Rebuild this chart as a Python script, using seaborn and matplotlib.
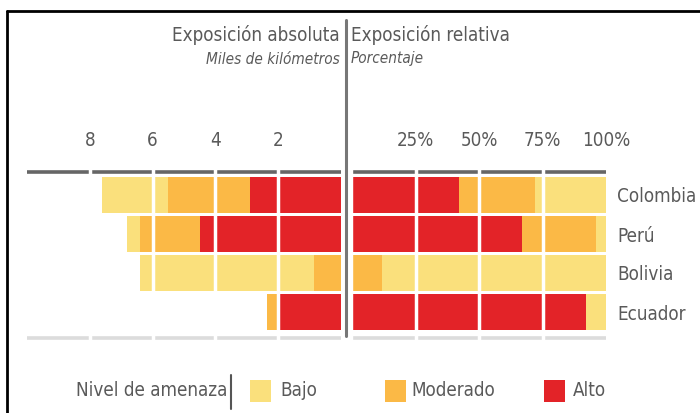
import numpy as np
import pandas as pd
import matplotlib
matplotlib.use("Agg")
import matplotlib.pyplot as plt
from matplotlib.patches import Rectangle
from matplotlib.lines import Line2D
import seaborn as sns

# ---- data ----
countries = ["Colombia", "Perú", "Bolivia", "Ecuador"]
levels = ["Bajo", "Moderado", "Alto"]
abs_alto = [2.9, 4.5, 0.0, 2.0]        # miles de km
abs_moderado = [2.6, 1.9, 0.85, 0.35]
abs_bajo = [2.1, 0.4, 5.55, 0.0]
rel_alto = [42, 67, 0, 92]             # %
rel_moderado = [30, 29, 12, 0]
rel_bajo = [28, 4, 88, 8]
abs_ticks = [8, 6, 4, 2]
rel_ticks = [25, 50, 75, 100]
rel_ticklabels = ["25%", "50%", "75%", "100%"]

colors = {"Bajo": "#FAE07C", "Moderado": "#FBB946", "Alto": "#E32328"}
text_color = "#5a5a5a"

sns.set_theme(style="white")
plt.rcParams["font.family"] = ["DejaVu Sans"]
plt.rcParams["font.stretch"] = "condensed"

W, H = 700, 413
fig = plt.figure(figsize=(7, 4.13), dpi=100)
fig.patch.set_facecolor("white")

def fx(px):
    return px / W

def fy(py):
    return 1 - py / H

ax_top_px, ax_bot_px = 168, 341
row0, pitch = 195, 39.0
ylim_top = (ax_top_px - row0) / pitch
ylim_bot = (ax_bot_px - row0) / pitch
line_top = (172 - row0) / pitch
line_bot = (338 - row0) / pitch

axL = fig.add_axes([fx(27), fy(ax_bot_px), fx(341 - 27), (ax_bot_px - ax_top_px) / H])
axR = fig.add_axes([fx(352), fy(ax_bot_px), fx(606 - 352), (ax_bot_px - ax_top_px) / H])

def stacked(ax, first, second, third, order):
    # cumulative totals drawn largest first so the segments stack
    c1 = np.array(first, float)
    c2 = c1 + np.array(second, float)
    c3 = c2 + np.array(third, float)
    for vals, lev in zip([c3, c2, c1], order[::-1]):
        df = pd.DataFrame({"pais": countries, "valor": vals})
        sns.barplot(data=df, x="valor", y="pais", orient="h", color=colors[lev],
                    saturation=1, width=0.92, linewidth=0, ax=ax, zorder=2)

stacked(axL, abs_alto, abs_moderado, abs_bajo, ["Alto", "Moderado", "Bajo"])
stacked(axR, rel_alto, rel_moderado, rel_bajo, ["Alto", "Moderado", "Bajo"])

axL.set_xlim(10, 0)
axR.set_xlim(0, 100)
for ax in (axL, axR):
    ax.set_ylim(ylim_bot, ylim_top)
    ax.set_xlabel("")
    ax.set_ylabel("")
    for s in ax.spines.values():
        s.set_visible(False)
    ax.axhline(line_top, color="#666666", lw=2.6, zorder=1)
    ax.axhline(line_bot, color="#DCDCDC", lw=2.6, zorder=1)
    ax.xaxis.tick_top()
    ax.tick_params(axis="x", length=0, pad=13, labelsize=13.5, labelcolor=text_color)
    ax.set_facecolor("none")

axL.set_xticks(abs_ticks)
axL.set_xticklabels([str(t) for t in abs_ticks])
for t in abs_ticks:
    axL.axvline(t, color="white", lw=2.5, zorder=4)
axL.set_yticks([])

axR.set_xticks(rel_ticks)
axR.set_xticklabels(rel_ticklabels)
for t in rel_ticks[:-1]:
    axR.axvline(t, color="white", lw=2.5, zorder=4)
axR.axvline(0, color="white", lw=1, zorder=4)
axR.yaxis.tick_right()
axR.set_yticks(range(len(countries)))
axR.set_yticklabels(countries)
axR.tick_params(axis="y", length=0, pad=8, labelsize=13.5, labelcolor=text_color)

# center divider
fig.add_artist(Line2D([fx(346), fx(346)], [fy(20), fy(336)], color="#777777", lw=2.2))

# headers
fig.text(fx(340), fy(35), "Exposición absoluta", ha="right", va="center", fontsize=13.5, color=text_color)
fig.text(fx(351), fy(35), "Exposición relativa", ha="left", va="center", fontsize=13.5, color=text_color)
fig.text(fx(340), fy(59), "Miles de kilómetros", ha="right", va="center", fontsize=11, style="italic", color=text_color)
fig.text(fx(351), fy(59), "Porcentaje", ha="left", va="center", fontsize=11, style="italic", color=text_color)

# frame
fig.add_artist(Line2D([fx(7), fx(700)], [fy(11), fy(11)], color="black", lw=2))
fig.add_artist(Line2D([fx(7), fx(7)], [fy(11), fy(413)], color="black", lw=2))

# legend
fig.text(fx(227), fy(391), "Nivel de amenaza", ha="right", va="center", fontsize=13.5, color=text_color)
fig.add_artist(Line2D([fx(231), fx(231)], [fy(375), fy(409)], color="#555555", lw=1.5))
for lev, px, tx in [("Bajo", 250, 280), ("Moderado", 385, 411), ("Alto", 544, 573)]:
    fig.add_artist(Rectangle((fx(px), fy(402)), fx(21), 22 / H, transform=fig.transFigure,
                             facecolor=colors[lev], edgecolor="none"))
    fig.text(fx(tx), fy(391), lev, ha="left", va="center", fontsize=13.5, color=text_color)

fig.savefig("out.png", dpi=100, facecolor="white")
